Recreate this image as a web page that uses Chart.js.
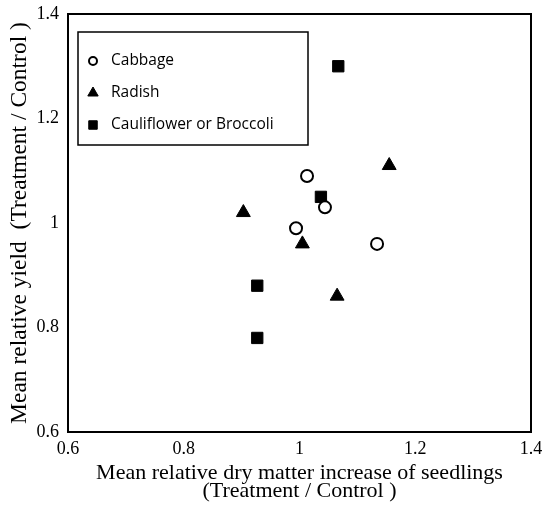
<!DOCTYPE html>
<html>
<head>
<meta charset="utf-8">
<title>Yield vs dry matter</title>
<style>
body { margin: 0; padding: 0; background: #fff; }
#wrap { width: 547px; height: 505px; }
</style>
<script src="https://cdn.jsdelivr.net/npm/chart.js@4.4.0/dist/chart.umd.min.js"></script>
</head>
<body>
<div id="wrap"><canvas id="c"></canvas></div>
<script>
// relative dry matter increase (x) and relative yield (y), treatment / control
var cabbageX = [1.013, 1.044, 0.994, 1.134];
var cabbageY = [1.09, 1.03, 0.99, 0.96];
var radishX = [0.903, 1.005, 1.065, 1.155];
var radishY = [1.02, 0.96, 0.86, 1.11];
var caulX = [1.067, 1.037, 0.927, 0.927];
var caulY = [1.30, 1.05, 0.88, 0.78];
var axisTicks = [0.6, 0.8, 1, 1.2, 1.4];

function pts(xs, ys) {
	return xs.map(function (x, i) { return { x: x, y: ys[i] }; });
}

var serif = '"Liberation Serif", "Times New Roman", serif';

// black frame around the plot area plus the boxed legend inside it
var frame = {
	id: 'frame',
	afterDraw: function (chart) {
		var ctx = chart.ctx, a = chart.chartArea;
		ctx.save();
		ctx.strokeStyle = '#000';
		ctx.lineWidth = 2;
		ctx.strokeRect(a.left, a.top, a.right - a.left, a.bottom - a.top);

		var bx = a.left + 10, by = a.top + 18, bw = 230, bh = 113;
		ctx.lineWidth = 1.5;
		ctx.strokeRect(bx, by, bw, bh);
		ctx.font = '15.5px "Open Sans", "Noto Sans", sans-serif';
		ctx.textBaseline = 'middle';
		chart.data.datasets.forEach(function (ds, i) {
			var cy = by + 29 + i * 32;
			ctx.strokeStyle = '#000';
			ctx.lineWidth = ds.borderWidth;
			ctx.beginPath();
			if (ds.pointStyle === 'circle') {
				ctx.arc(bx + 15, cy, ds.legendRadius, 0, Math.PI * 2);
				ctx.fillStyle = '#fff';
				ctx.fill();
				ctx.stroke();
			} else {
				ctx.fillStyle = '#000';
				Chart.helpers.drawPoint(ctx, { pointStyle: ds.pointStyle, radius: ds.legendRadius, borderWidth: 1 }, bx + 15, cy);
			}
			ctx.fillStyle = '#000';
			ctx.fillText(ds.label, bx + 33, cy);
		});
		ctx.restore();
	}
};

new Chart(document.getElementById('c'), {
	type: 'scatter',
	data: {
		datasets: [{
			label: 'Cabbage',
			data: pts(cabbageX, cabbageY),
			pointStyle: 'circle',
			pointRadius: 6,
			legendRadius: 4,
			borderWidth: 2,
			borderColor: '#000',
			pointBackgroundColor: '#fff',
			backgroundColor: '#fff'
		}, {
			label: 'Radish',
			data: pts(radishX, radishY),
			pointStyle: 'triangle',
			pointRadius: 8,
			legendRadius: 6,
			borderWidth: 1,
			borderColor: '#000',
			pointBackgroundColor: '#000',
			backgroundColor: '#000'
		}, {
			label: 'Cauliflower or Broccoli',
			data: pts(caulX, caulY),
			pointStyle: 'rect',
			pointRadius: 8,
			legendRadius: 6,
			borderWidth: 1,
			borderColor: '#000',
			pointBackgroundColor: '#000',
			backgroundColor: '#000'
		}]
	},
	options: {
		responsive: true,
		maintainAspectRatio: false,
		animation: false,
		layout: { padding: { top: 14, right: 16, left: 0, bottom: 0 } },
		plugins: {
			legend: { display: false },
			tooltip: { enabled: false }
		},
		scales: {
			x: {
				type: 'linear',
				min: 0.6,
				max: 1.4,
				afterBuildTicks: function (s) { s.ticks = axisTicks.map(function (v) { return { value: v }; }); },
				afterFit: function (s) { s.height = 73; s.paddingLeft = 0; s.paddingRight = 0; },
				grid: { display: false, drawTicks: false },
				border: { display: false },
				ticks: {
					padding: 6,
					color: '#000',
					font: { family: serif, size: 18 },
					callback: function (v) { return String(v); }
				},
				title: {
					display: true,
					text: ['Mean relative dry matter increase of seedlings', '(Treatment / Control )'],
					color: '#000',
					font: { family: serif, size: 22, lineHeight: 0.85 },
					padding: { top: 3 }
				}
			},
			y: {
				type: 'linear',
				min: 0.6,
				max: 1.4,
				afterBuildTicks: function (s) { s.ticks = axisTicks.map(function (v) { return { value: v }; }); },
				afterFit: function (s) { s.width = 68; s.paddingTop = 0; s.paddingBottom = 0; },
				grid: { display: false, drawTicks: false },
				border: { display: false },
				ticks: {
					padding: 9,
					color: '#000',
					font: { family: serif, size: 18 },
					callback: function (v) { return String(v); }
				},
				title: {
					display: true,
					text: 'Mean relative yield  (Treatment / Control )',
					color: '#000',
					font: { family: serif, size: 23.5 },
					padding: { top: 6, bottom: 0 }
				}
			}
		}
	},
	plugins: [frame]
});
</script>
</body>
</html>
